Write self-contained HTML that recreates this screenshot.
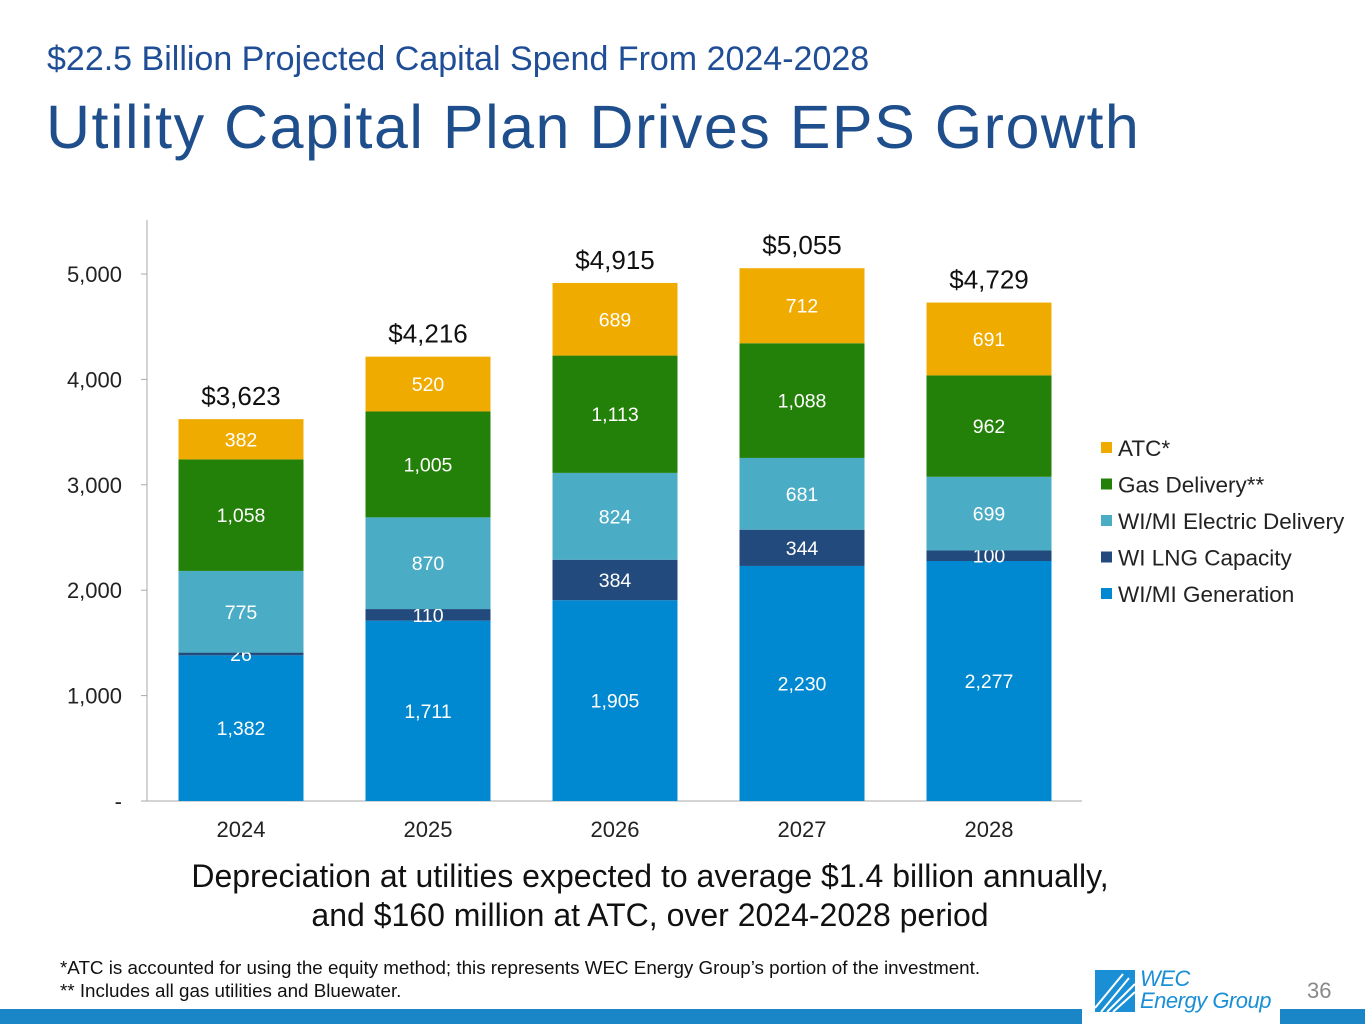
<!DOCTYPE html>
<html><head><meta charset="utf-8"><style>
body{margin:0;width:1365px;height:1024px;position:relative;background:#fff;font-family:"Liberation Sans",sans-serif;overflow:hidden}
.abs{position:absolute;white-space:nowrap}
</style></head><body>
<div class="abs" style="left:47px;top:40px;font-size:34px;color:#1f4e96">$22.5 Billion Projected Capital Spend From 2024-2028</div>
<div class="abs" style="left:46px;top:92px;font-size:61px;color:#1f4e8c;letter-spacing:1.5px">Utility Capital Plan Drives EPS Growth</div>
<svg id="chart" width="1365" height="1024" style="position:absolute;left:0;top:0"></svg>
<div class="abs" style="left:0;width:1300px;top:857px;text-align:center;font-size:32px;line-height:39px;color:#111">Depreciation at utilities expected to average $1.4 billion annually,<br>and $160 million at ATC, over 2024-2028 period</div>
<div class="abs" style="left:60px;top:956px;font-size:18.8px;line-height:23px;color:#111">*ATC is accounted for using the equity method; this represents WEC Energy Group’s portion of the investment.<br>** Includes all gas utilities and Bluewater.</div>
<div class="abs" style="left:1307px;top:978px;font-size:22px;color:#888">36</div>
<div class="abs" style="left:1095px;top:970px">
<svg width="40" height="42"><rect width="40" height="42" fill="#1a8fd6"/><g stroke="#fff" stroke-width="2"><line x1="0" y1="38" x2="28" y2="4"/><line x1="6" y1="42" x2="34" y2="8"/><line x1="12" y1="42" x2="40" y2="14"/><line x1="18" y1="42" x2="40" y2="22"/></g></svg>
<div class="abs" style="left:45px;top:-2px;font-size:22px;font-style:italic;color:#1a8fd6;line-height:22px;letter-spacing:-0.5px">WEC<br>Energy Group</div></div>
<div class="abs" style="left:0;top:1009px;width:1082px;height:15px;background:#1a86c8"></div>
<div class="abs" style="left:1280px;top:1009px;width:85px;height:15px;background:#1a86c8"></div>
<script>
const years=["2024","2025","2026","2027","2028"];
const seriesNames=["WI/MI Generation","WI LNG Capacity","WI/MI Electric Delivery","Gas Delivery**","ATC*"];
const generation=[1382,1711,1905,2230,2277];
const lng=[26,110,384,344,100];
const electric=[775,870,824,681,699];
const gas=[1058,1005,1113,1088,962];
const atc=[382,520,689,712,691];
const totals=["$3,623","$4,216","$4,915","$5,055","$4,729"];
const yTicks=[0,1000,2000,3000,4000,5000];
const yTickLabels=["-","1,000","2,000","3,000","4,000","5,000"];
const colors=["#0088d1","#234a7c","#4aacc5","#238008","#f0ab00"];
const NS="http://www.w3.org/2000/svg",svg=document.getElementById("chart");
const y=v=>801-v*0.1054, xc=i=>241+i*187, bw=125;
function mk(t,a,txt){const e=document.createElementNS(NS,t);for(const k in a)e.setAttribute(k,a[k]);if(txt!==undefined)e.textContent=txt;svg.appendChild(e);return e;}
let e=mk("line",{x1:147,y1:220,x2:147,y2:801,stroke:"#aaa"});


e=mk("line",{x1:141,y1:801,x2:1082,y2:801,stroke:"#aaa"});


yTicks.forEach((t,i)=>{
 mk("line",{x1:141,x2:147,y1:y(t),y2:y(t),stroke:"#aaa"});
 e=mk("text",{x:122,y:y(t)+8,"text-anchor":"end","font-size":22,fill:"#222"},yTickLabels[i]);
 
 
});
const series=[generation,lng,electric,gas,atc];
years.forEach((yr,i)=>{
 let base=0;
 series.forEach((s,k)=>{
  const v=s[i];
  e=mk("rect",{x:xc(i)-bw/2,y:y(base+v),width:bw,height:y(base)-y(base+v),fill:colors[k]});
  
  
  e=mk("text",{x:xc(i),y:y(base+v/2)+7,"text-anchor":"middle","font-size":19.5,fill:"#fff"},v.toLocaleString("en-US"));
  
  
  base+=v;
 });
 e=mk("text",{x:xc(i),y:y(base)-14,"text-anchor":"middle","font-size":26,fill:"#111"},totals[i]);
 
 
 e=mk("text",{x:xc(i),y:837,"text-anchor":"middle","font-size":22,fill:"#222"},yr);
 
 
}
);
for(let k=4;k>=0;k--){
 const ly=448+(4-k)*36.5;
 e=mk("rect",{x:1101,y:ly-6,width:11,height:11,fill:colors[k]});
 
 
 e=mk("text",{x:1118,y:ly+8,"font-size":22.5,fill:"#222"},seriesNames[k]);
 
 
}
</script>
</body></html>
